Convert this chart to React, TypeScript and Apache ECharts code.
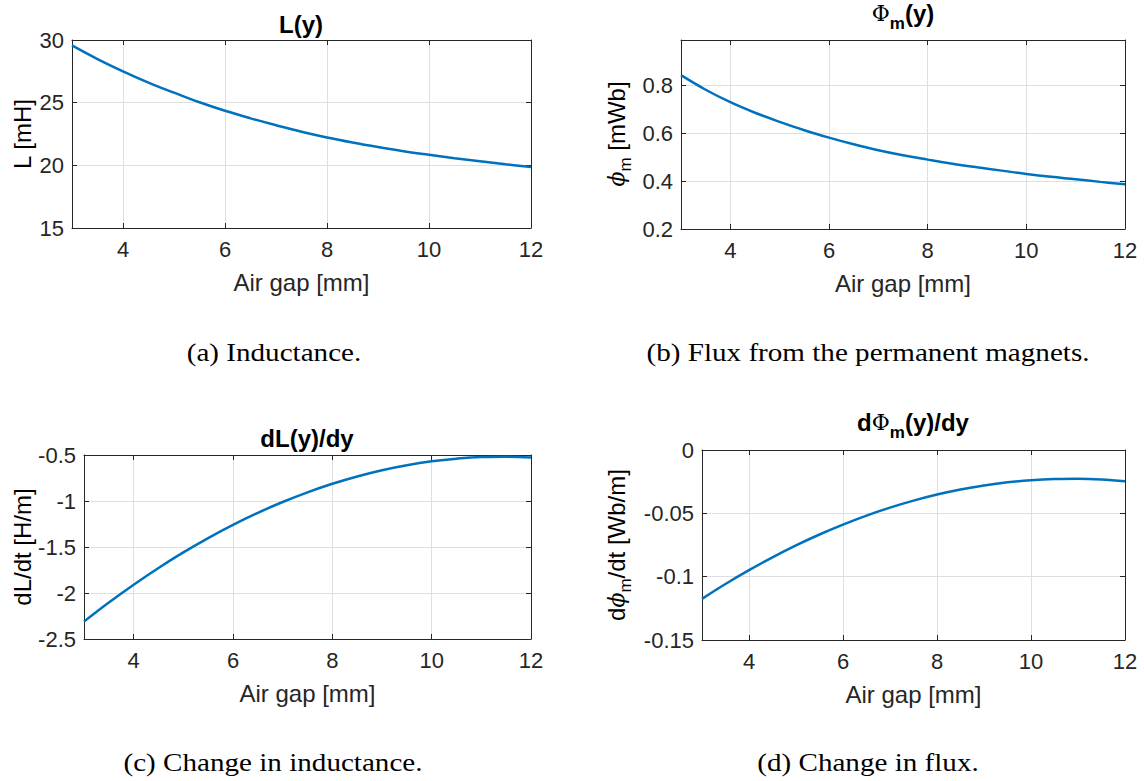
import React, { useEffect, useRef } from "react";
import * as echarts from "echarts";

// ---- data ----
const airGap = [3, 3.5, 4, 4.5, 5, 5.5, 6, 6.5, 7, 7.5, 8, 8.5, 9, 9.5, 10, 10.5, 11, 11.5, 12];
const inductance = [29.57, 28.48, 27.5, 26.6, 25.8, 25.03, 24.35, 23.75, 23.2, 22.68, 22.22, 21.82, 21.46, 21.13, 20.84, 20.57, 20.33, 20.09, 19.86];
const flux = [0.843, 0.782, 0.73, 0.686, 0.648, 0.613, 0.582, 0.554, 0.529, 0.508, 0.49, 0.473, 0.458, 0.444, 0.43, 0.418, 0.408, 0.397, 0.387];
const dInductance = [-2.311, -2.104, -1.91, -1.728, -1.559, -1.403, -1.26, -1.129, -1.011, -0.906, -0.813, -0.733, -0.665, -0.611, -0.569, -0.54, -0.523, -0.52, -0.528];
const dFlux = [-0.1175, -0.1058, -0.0949, -0.0847, -0.0753, -0.0667, -0.0589, -0.0518, -0.0455, -0.04, -0.0352, -0.0312, -0.028, -0.0255, -0.0238, -0.0229, -0.0227, -0.0233, -0.0247];

const xTicks = [4, 6, 8, 10, 12];
const yTicksA = [15, 20, 25, 30];
const yTicksB = [0.2, 0.4, 0.6, 0.8];
const yTicksC = [-2.5, -2, -1.5, -1, -0.5];
const yTicksD = [-0.15, -0.1, -0.05, 0];

const xLabel = "Air gap [mm]";
const captions = ["(a) Inductance.", "(b) Flux from the permanent magnets.", "(c) Change in inductance.", "(d) Change in flux."];

const AX = "#262626";
const GRIDC = "#dfdfdf";
const SANS = "Liberation Sans";

export default function App() {
  const ref = useRef<HTMLDivElement>(null);
  useEffect(() => {
    if (!ref.current) return;
    const chart = echarts.init(ref.current, undefined, { renderer: "svg" });

    const grids = [
      { left: 72, top: 40, width: 459, height: 188 },
      { left: 681, top: 40, width: 444, height: 189 },
      { left: 84, top: 455, width: 447, height: 184 },
      { left: 702, top: 450, width: 423, height: 190 },
    ];
    const yCfg = [
      { min: 15, max: 30, ticks: yTicksA },
      { min: 0.2, max: 0.99, ticks: yTicksB },
      { min: -2.5, max: -0.5, ticks: yTicksC },
      { min: -0.15, max: 0, ticks: yTicksD },
    ];
    const seriesData = [inductance, flux, dInductance, dFlux];

    const xAxes: any[] = [];
    const yAxes: any[] = [];
    const series: any[] = [];
    for (let i = 0; i < 4; i++) {
      for (const top of [false, true]) {
        xAxes.push({
          type: "value",
          gridIndex: i,
          position: top ? "top" : "bottom",
          min: 3,
          max: 12,
          axisLine: { show: true, onZero: false, lineStyle: { color: AX, width: 1 } },
          axisTick: { show: true, inside: true, length: 5, customValues: xTicks, lineStyle: { color: AX } },
          axisLabel: { show: !top, customValues: xTicks, color: AX, fontSize: 22, fontFamily: SANS, margin: 10 },
          splitLine: { show: !top, lineStyle: { color: GRIDC, width: 1 } },
          name: top ? "" : xLabel,
          nameLocation: "middle",
          nameGap: 42,
          nameTextStyle: { color: AX, fontSize: 24, fontFamily: SANS },
        });
      }
      for (const right of [false, true]) {
        yAxes.push({
          type: "value",
          gridIndex: i,
          position: right ? "right" : "left",
          min: yCfg[i].min,
          max: yCfg[i].max,
          axisLine: { show: true, onZero: false, lineStyle: { color: AX, width: 1 } },
          axisTick: { show: true, inside: true, length: 5, customValues: yCfg[i].ticks, lineStyle: { color: AX } },
          axisLabel: { show: !right, customValues: yCfg[i].ticks, color: AX, fontSize: 22, fontFamily: SANS, margin: 8 },
          splitLine: { show: !right, lineStyle: { color: GRIDC, width: 1 } },
        });
      }
      series.push({
        type: "line",
        xAxisIndex: 2 * i,
        yAxisIndex: 2 * i,
        data: airGap.map((g, k) => [g, seriesData[i][k]]),
        showSymbol: false,
        smooth: 0.4,
        lineStyle: { color: "#0072BD", width: 2.5 },
      });
    }

    const bold = { fontFamily: SANS, fontSize: 24, fontWeight: "bold", fill: "#000" } as any;
    const richTitle = {
      b: { fontFamily: SANS, fontSize: 24, fontWeight: "bold", color: "#000" },
      p: { fontFamily: "DejaVu Serif", fontSize: 22, fontWeight: "normal", color: "#000" },
      s: { fontFamily: SANS, fontSize: 17, fontWeight: "bold", color: "#000", padding: [20, 0, 0, 0] },
    };
    const richY = {
      n: { fontFamily: SANS, fontSize: 24, color: AX },
      p: { fontFamily: "DejaVu Serif", fontSize: 22, fontStyle: "italic", color: AX },
      s: { fontFamily: SANS, fontSize: 17, color: AX, padding: [18, 0, 0, 0] },
    };
    const capStyle = (x: number, y: number, t: string) => ({
      type: "text",
      x,
      y,
      scaleX: 1.12,
      style: { text: t, fontFamily: "Liberation Serif", fontSize: 26, fill: "#000", align: "center", verticalAlign: "middle" },
    });
    const yName = (x: number, y: number, t: string) => ({
      type: "text",
      x,
      y,
      rotation: Math.PI / 2,
      style: { text: t, rich: richY, align: "center", verticalAlign: "middle" },
    });
    const title = (x: number, y: number, t: string) => ({
      type: "text",
      x,
      y,
      style: { text: t, rich: richTitle, align: "center", verticalAlign: "middle" },
    });

    const graphic = [
      { type: "text", x: 301, y: 24, style: { ...bold, text: "L(y)", align: "center", verticalAlign: "middle" } },
      title(903, 13, "{p|Φ}{s|m}{b|(y)}"),
      { type: "text", x: 307, y: 438, style: { ...bold, text: "dL(y)/dy", align: "center", verticalAlign: "middle" } },
      title(913, 422, "{b|d}{p|Φ}{s|m}{b|(y)/dy}"),
      yName(22, 134, "{n|L [mH]}"),
      yName(616, 134, "{p|ϕ}{s|m}{n| [mWb]}"),
      yName(22, 547, "{n|dL/dt [H/m]}"),
      yName(616, 545, "{n|d}{p|ϕ}{s|m}{n|/dt [Wb/m]}"),
      capStyle(274, 352, captions[0]),
      capStyle(868, 352, captions[1]),
      capStyle(273, 762, captions[2]),
      capStyle(868, 762, captions[3]),
    ];

    chart.setOption({
      animation: false,
      backgroundColor: "#ffffff",
      grid: grids.map((g) => ({ ...g, show: false, containLabel: false })),
      xAxis: xAxes,
      yAxis: yAxes,
      series,
      graphic,
    });
    return () => chart.dispose();
  }, []);
  return (
    <div
      ref={ref}
      style={{ position: "fixed", left: 0, top: 0, width: 1144, height: 781, background: "#fff" }}
    />
  );
}
